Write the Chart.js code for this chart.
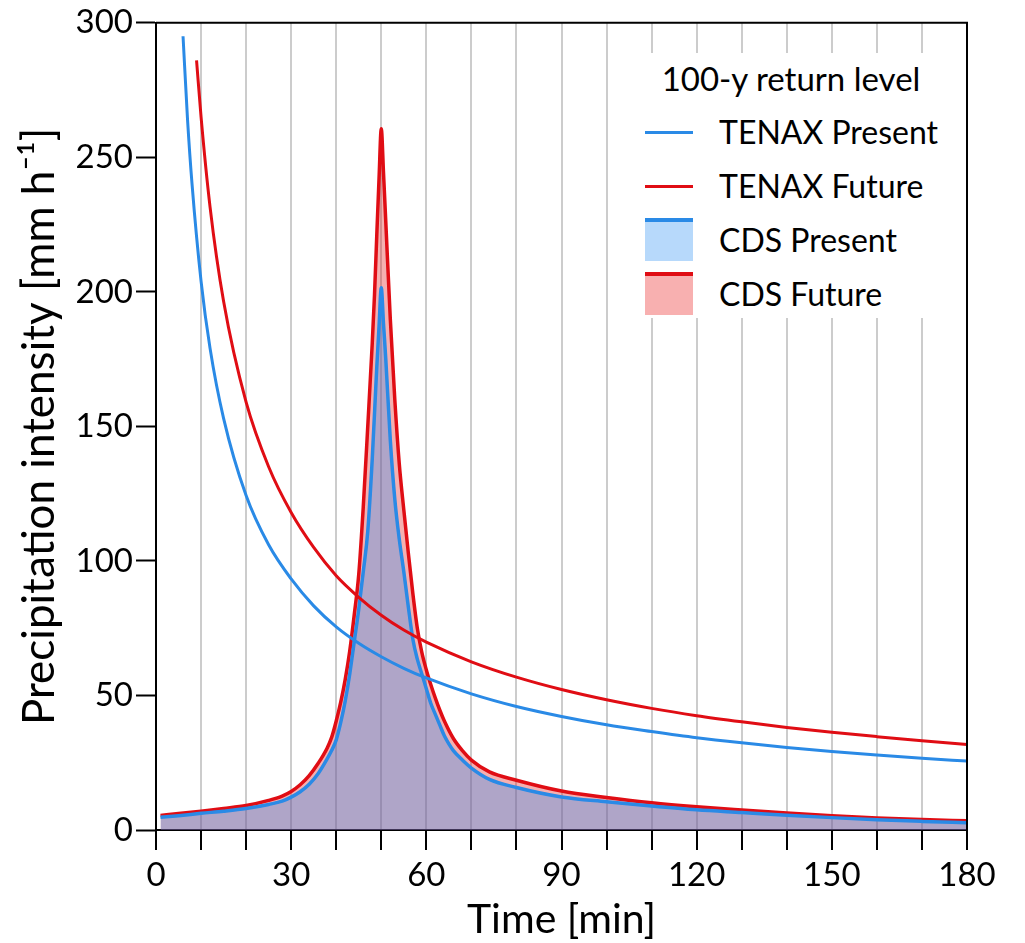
<!DOCTYPE html>
<html>
<head>
<meta charset="utf-8">
<script src="https://cdn.jsdelivr.net/npm/chart.js"></script>
<style>
  body { margin: 0; background: #fff; }
  #wrap { position: relative; width: 1025px; height: 943px; font-family: Lato, "Open Sans", sans-serif; }
  #chart { position: absolute; left: 0; top: 0; }
  .legend { position: absolute; left: 636px; top: 53px; width: 320px; height: 265px; background: #fff; }
  .legend .title { position: absolute; left: 0; width: 310px; top: 6px; text-align: center; font-size: 33px; line-height: 38px; color: #000; }
  .legend .item { position: absolute; left: 83px; font-size: 32px; line-height: 38px; color: #000; white-space: nowrap; }
  .legend .line { position: absolute; left: 9px; width: 48px; height: 3px; }
  .legend .box { position: absolute; left: 9px; width: 48px; height: 43px; box-sizing: border-box; border-top: 4px solid; }
</style>
</head>
<body>
<div id="wrap">
  <canvas id="chart" width="1025" height="943"></canvas>
  <div class="legend">
    <div class="title">100-y return level</div>
    <div class="line" style="top:78px;background:#2a8ae6"></div>
    <div class="item" style="top:60px">TENAX Present</div>
    <div class="line" style="top:132px;background:#e00d14"></div>
    <div class="item" style="top:114px">TENAX Future</div>
    <div class="box" style="top:165px;background:#b7d9fb;border-color:#2a8ae6"></div>
    <div class="item" style="top:168px">CDS Present</div>
    <div class="box" style="top:219px;background:#f8b0b0;border-color:#e00d14"></div>
    <div class="item" style="top:222px">CDS Future</div>
  </div>
</div>
<script>
// IDF curves (100-y return level)
const tenaxPresentT = [6, 7, 8, 10, 12, 15, 20, 25, 30, 35, 40, 45, 50, 55, 60, 70, 80, 90, 100, 110, 120, 130, 140, 150, 160, 170, 180];
const tenaxPresentI = [295, 264, 240, 204, 179, 153, 124.3, 106, 93.3, 83.3, 75.5, 69.4, 64.4, 60.1, 56.5, 50.6, 45.9, 42.2, 39.1, 36.6, 34.3, 32.4, 30.7, 29.2, 27.9, 26.7, 25.6];

const tenaxFutureT = [9, 10, 12, 15, 20, 25, 30, 35, 40, 45, 50, 55, 60, 70, 80, 90, 100, 110, 120, 130, 140, 150, 160, 170, 180];
const tenaxFutureI = [286, 265, 231.5, 196.5, 159, 135, 118, 105, 94.5, 86.5, 79.8, 74.3, 69.8, 62.5, 56.8, 52.2, 48.4, 45.2, 42.5, 40.2, 38.1, 36.3, 34.7, 33.2, 31.8];

// Chicago design storms
const cdsPresentT = [1, 5, 10, 15, 20, 25, 28, 30, 32, 34, 36, 38, 39, 40, 41, 42, 43, 44, 45, 46, 47, 48, 49, 49.5, 50, 50.5, 51, 52, 53, 54, 55, 56, 57, 58, 59, 60, 61, 62, 63, 64, 65, 66, 68, 70, 74, 80, 90, 100, 110, 120, 130, 140, 150, 160, 170, 180];
const cdsPresentI = [4.7, 5.3, 6.2, 7.0, 8.0, 9.5, 10.7, 12.2, 14.2, 17, 21, 26.5, 29.6, 33.5, 40, 48, 58, 70, 82, 96, 111, 138, 172, 187, 201.5, 188, 175, 145, 123, 108, 96, 83, 71, 63.5, 58, 52.5, 47, 43, 39, 35, 32, 29.5, 26, 23, 18.8, 15.8, 12.3, 10.5, 8.9, 7.5, 6.5, 5.5, 4.6, 3.8, 3.2, 2.7];

const cdsFutureT = [1, 5, 10, 15, 20, 25, 28, 30, 32, 34, 36, 38, 39, 40, 41, 42, 43, 44, 45, 46, 47, 48, 48.5, 49, 49.5, 50, 50.5, 51, 52, 53, 54, 55, 56, 57, 58, 59, 60, 61, 62, 63, 64, 66, 68, 70, 74, 80, 90, 100, 110, 120, 130, 140, 150, 160, 170, 180];
const cdsFutureI = [5.4, 6.1, 7.0, 8.0, 9.1, 11.0, 12.6, 14.3, 16.8, 20.2, 24.8, 30.5, 34.5, 40.5, 47.5, 56, 66.5, 80, 95, 120, 150, 181, 199, 221, 242, 260.6, 244, 226, 190, 160, 136, 119, 103, 88, 75, 66, 59.5, 54, 49, 44.5, 40.5, 34, 29.5, 26, 21.6, 18.5, 14.5, 12.1, 10.1, 8.6, 7.4, 6.3, 5.3, 4.5, 3.9, 3.4];

const blue = "#2a8ae6";
const red = "#e00d14";

function pts(t, v) {
  return t.map((x, i) => ({ x: x, y: v[i] }));
}

// top and right frame lines
const frame = {
  id: "frame",
  afterDatasetsDraw(chart) {
    const a = chart.chartArea;
    const c = chart.ctx;
    c.save();
    c.strokeStyle = "#000";
    c.lineWidth = 2;
    c.beginPath();
    c.moveTo(a.left, a.top);
    c.lineTo(a.right, a.top);
    c.lineTo(a.right, a.bottom);
    c.stroke();
    c.restore();
  },
};

const ctx = document.getElementById("chart").getContext("2d");
const chart = new Chart(ctx, {
  type: "line",
  data: {
    datasets: [
      {
        label: "TENAX Present",
        data: pts(tenaxPresentT, tenaxPresentI),
        borderColor: blue,
        borderWidth: 3,
        fill: false,
        cubicInterpolationMode: "monotone",
      },
      {
        label: "TENAX Future",
        data: pts(tenaxFutureT, tenaxFutureI),
        borderColor: red,
        borderWidth: 3,
        fill: false,
        cubicInterpolationMode: "monotone",
      },
      {
        label: "CDS Present",
        data: pts(cdsPresentT, cdsPresentI),
        borderColor: blue,
        borderWidth: 3.5,
        backgroundColor: "rgba(43, 143, 243, 0.35)",
        fill: "origin",
        cubicInterpolationMode: "monotone",
      },
      {
        label: "CDS Future",
        data: pts(cdsFutureT, cdsFutureI),
        borderColor: red,
        borderWidth: 3.5,
        backgroundColor: "rgba(225, 15, 15, 0.33)",
        fill: "origin",
        cubicInterpolationMode: "monotone",
      },
    ],
  },
  options: {
    responsive: false,
    animation: false,
    events: [],
    elements: { point: { radius: 0 } },
    layout: { padding: { top: 18, right: 58, left: 0, bottom: 0 } },
    scales: {
      x: {
        type: "linear",
        min: 0,
        max: 180,
        afterFit: (s) => { s.height = 113; },
        ticks: {
          stepSize: 10,
          autoSkip: false,
          maxRotation: 0,
          padding: 6,
          color: "#000",
          font: { family: "Lato", size: 33 },
          callback: (v) => (v % 30 === 0 ? v : ""),
        },
        grid: {
          color: "#cccccc",
          lineWidth: 2,
          tickColor: "#000",
          tickWidth: 2,
          tickLength: 20,
        },
        border: { color: "#000", width: 2 },
        title: {
          display: true,
          text: "Time [min]",
          color: "#000",
          font: { family: "Lato", size: 41, lineHeight: 1.05 },
          padding: { top: 0, bottom: 2 },
        },
      },
      y: {
        min: 0,
        max: 300,
        afterFit: (s) => { s.width = 156; },
        ticks: {
          stepSize: 50,
          padding: 3,
          color: "#000",
          font: { family: "Lato", size: 33 },
        },
        grid: {
          drawOnChartArea: false,
          tickColor: "#000",
          tickWidth: 2,
          tickLength: 20,
        },
        border: { color: "#000", width: 2 },
        title: {
          display: true,
          text: "Precipitation intensity [mm h⁻¹]",
          color: "#000",
          font: { family: "Lato", size: 44, lineHeight: 1.1 },
          padding: { top: 16, bottom: 0 },
        },
      },
    },
    plugins: {
      legend: { display: false },
      tooltip: { enabled: false },
    },
  },
  plugins: [frame],
});
</script>
</body>
</html>
